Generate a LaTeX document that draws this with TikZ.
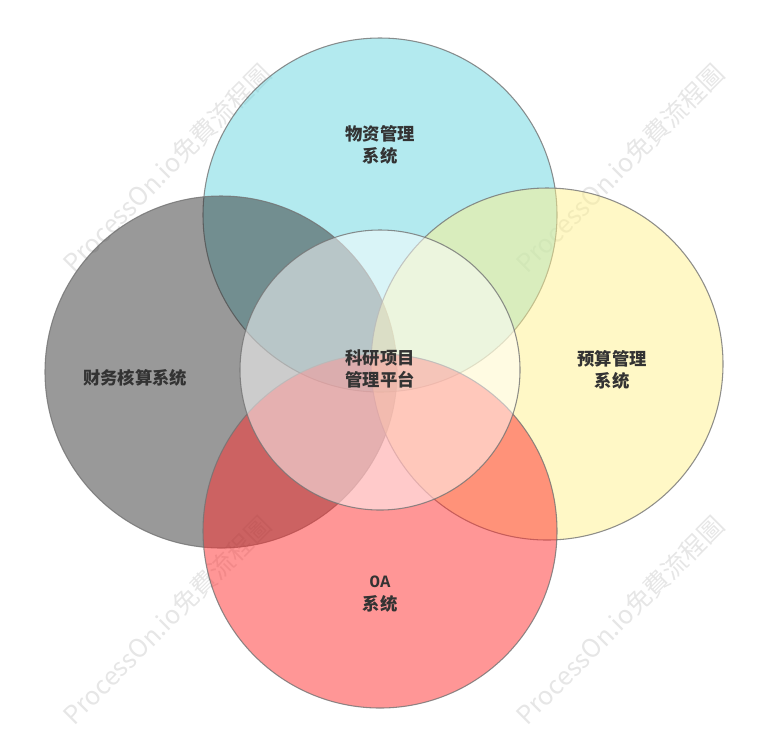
\documentclass[tikz,border=0pt]{standalone}
\usepackage{fontspec}
\newfontfamily\cjk{Noto Sans CJK SC}
\newfontfamily\wmfont{Noto Sans CJK TC}
\newfontfamily\oafont{Liberation Mono}
\usepackage{tikz}

\definecolor{wzcyan}{HTML}{67D5E0}
\definecolor{cwgray}{HTML}{333333}
\definecolor{ysyellow}{HTML}{FFF18D}
\definecolor{oared}{HTML}{FF2D2D}
\definecolor{txtgray}{HTML}{333333}
\definecolor{wmgray}{HTML}{E6E6E6}

\tikzset{
  ring/.style={draw=black!55, line width=0.8pt, fill opacity=0.5, draw opacity=0.8},
  sysname/.style={font=\cjk\fontsize{13}{17}\selectfont\bfseries, text=txtgray, align=center},
  watermark/.style={font=\wmfont\fontsize{19}{19}\selectfont, text=wmgray, rotate=45}
}

\begin{document}
\begin{tikzpicture}[x=0.75pt,y=-0.75pt]
\useasboundingbox (0,0) rectangle (759,744);

% watermarks
\node[watermark] (wm1) at (167,168) {ProcessOn.io免費流程圖};
\node[watermark] (wm2) at (620,168) {ProcessOn.io免費流程圖};
\node[watermark] (wm3) at (167,620) {ProcessOn.io免費流程圖};
\node[watermark] (wm4) at (620,620) {ProcessOn.io免費流程圖};

% the four systems
\filldraw[ring, fill=wzcyan] (380,215) circle (177);
\filldraw[ring, fill=cwgray] (221,372) circle (176);
\filldraw[ring, fill=ysyellow] (547,364) circle (176);
\filldraw[ring, fill=oared] (380,531) circle (177);

% platform in the middle
\filldraw[ring, fill=white] (380,370) circle (140);

\node[sysname] (wuzi) at (380,145) {物资管理\\系统};
\node[sysname] (caiwu) at (135,378) {财务核算系统};
\node[sysname] (yusuan) at (612,370) {预算管理\\系统};
\node[sysname] (oa) at (380,594) {{\oafont\bfseries OA}\\系统};
\node[sysname] (keyan) at (380,369) {科研项目\\管理平台};
\end{tikzpicture}
\end{document}
